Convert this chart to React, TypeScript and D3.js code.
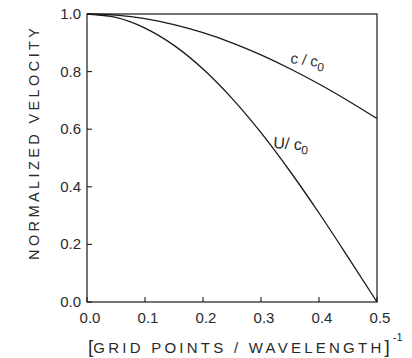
import React from "react";
import * as d3 from "d3";

// grid points per wavelength (inverse) and normalized velocities
const kValues = [0, 0.05, 0.1, 0.15, 0.2, 0.25, 0.3, 0.35, 0.4, 0.45, 0.5];
const phaseVel = [1.0, 0.996, 0.984, 0.963, 0.935, 0.9, 0.858, 0.81, 0.757, 0.699, 0.637];
const groupVel = [1.0, 0.988, 0.951, 0.891, 0.809, 0.707, 0.588, 0.454, 0.309, 0.156, 0.0];
const xTicks = [0, 0.1, 0.2, 0.3, 0.4, 0.5];
const yTicks = [0, 0.2, 0.4, 0.6, 0.8, 1.0];

const W = 412;
const H = 358;
const left = 87, right = 377, top = 14, bottom = 302;
const ink = "#1a1a1a";
const textInk = "#2a2a2a";
const font = "'Liberation Sans', Arial, sans-serif";

export default function App() {
  const x = d3.scaleLinear().domain([0, 0.5]).range([left, right]);
  const y = d3.scaleLinear().domain([0, 1]).range([bottom, top]);

  const line = d3
    .line<number>()
    .x((d, i) => x(kValues[i]))
    .y((d) => y(d))
    .curve(d3.curveMonotoneX);

  const fmt = (v: number) => v.toFixed(1);

  return (
    <svg
      width={W}
      height={H}
      style={{ position: "absolute", left: 0, top: 0, background: "#fff" }}
      fontFamily={font}
    >
      {/* frame */}
      <rect x={left} y={top} width={right - left} height={bottom - top} fill="none" stroke={ink} strokeWidth={1.2} />

      {/* y ticks */}
      {yTicks.map((t) => (
        <g key={"y" + t}>
          <line x1={left} x2={left + 5} y1={y(t)} y2={y(t)} stroke={ink} strokeWidth={1.1} />
          <text x={left - 6} y={y(t) + 5} textAnchor="end" fontSize={15} fill={textInk}>
            {fmt(t)}
          </text>
        </g>
      ))}

      {/* x ticks */}
      {xTicks.map((t) => (
        <g key={"x" + t}>
          <line x1={x(t)} x2={x(t)} y1={bottom} y2={bottom - 5} stroke={ink} strokeWidth={1.1} />
          <text x={x(t) + 3} y={bottom + 21} textAnchor="middle" fontSize={15} fill={textInk}>
            {fmt(t)}
          </text>
        </g>
      ))}

      {/* curves */}
      <path d={line(phaseVel) || ""} fill="none" stroke={ink} strokeWidth={1.3} />
      <path d={line(groupVel) || ""} fill="none" stroke={ink} strokeWidth={1.3} />

      {/* curve labels */}
      <text transform="translate(290,63) rotate(8)" fontSize={15} fill={textInk}>
        c / c
        <tspan fontSize={12} dy={4}>0</tspan>
      </text>
      <text transform="translate(273,148) rotate(4)" fontSize={16} fill={textInk}>
        U/ c
        <tspan fontSize={12} dy={4}>0</tspan>
      </text>

      {/* axis titles */}
      <text
        transform="translate(39,144) rotate(-90)"
        textAnchor="middle"
        fontSize={14.5}
        fill={textInk}
        textLength={232}
        lengthAdjust="spacing"
      >
        NORMALIZED  VELOCITY
      </text>
      <text x={88} y={353} fontSize={15} fill={textInk}>
        <tspan fontSize={19}>[</tspan>
        <tspan textLength={288} lengthAdjust="spacing">GRID  POINTS / WAVELENGTH</tspan>
        <tspan fontSize={19}>]</tspan>
        <tspan fontSize={11} dy={-12} dx={3}>-1</tspan>
      </text>
    </svg>
  );
}
